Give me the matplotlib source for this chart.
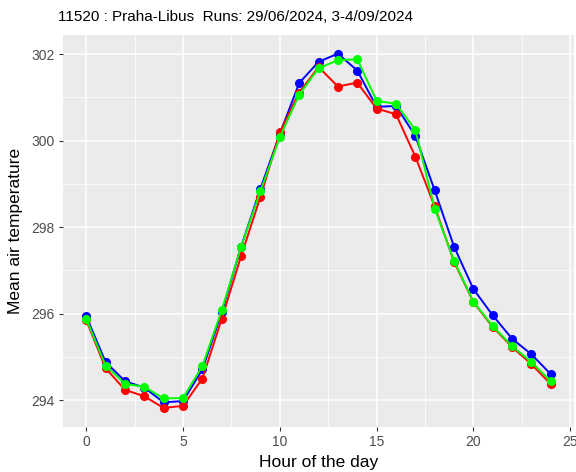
import matplotlib.pyplot as plt

plt.rcParams['font.family'] = ['Liberation Sans', 'DejaVu Sans']

hours = list(range(25))

# run 1 (blue)
temp_blue = [295.94, 294.88, 294.44, 294.29, 293.95, 293.98, 294.71, 296.03, 297.55,
             298.89, 300.15, 301.33, 301.82, 302.01, 301.62, 300.78, 300.80, 300.11,
             298.85, 297.55, 296.57, 295.96, 295.42, 295.06, 294.60]
# run 2 (red)
temp_red = [295.85, 294.74, 294.24, 294.09, 293.82, 293.87, 294.50, 295.88, 297.33,
            298.70, 300.19, 301.11, 301.70, 301.25, 301.34, 300.74, 300.61, 299.63,
            298.48, 297.20, 296.27, 295.69, 295.23, 294.83, 294.37]
# run 3 (green)
temp_green = [295.88, 294.80, 294.38, 294.31, 294.04, 294.05, 294.79, 296.08, 297.55,
              298.83, 300.08, 301.06, 301.67, 301.86, 301.88, 300.92, 300.85, 300.25,
              298.43, 297.22, 296.28, 295.71, 295.25, 294.88, 294.44]

series = [(temp_blue, "#0000FF"), (temp_red, "#FF0000"), (temp_green, "#00FF00")]

fig = plt.figure(figsize=(5.76, 4.72), dpi=100)
ax = fig.add_axes([0.1094, 0.0953, 0.8872, 0.8305])

# ggplot-like grey panel
ax.set_facecolor("#EBEBEB")
for s in ax.spines.values():
    s.set_visible(False)

for vals, col in series:
    ax.plot(hours, vals, color=col, lw=1.4, marker="o", markersize=5.5, zorder=3)

ax.set_xlim(-1.2, 25.2)
ax.set_ylim(293.38, 302.44)
ax.set_xticks([0, 5, 10, 15, 20, 25])
ax.set_yticks([294, 296, 298, 300, 302])
ax.set_xticks([2.5, 7.5, 12.5, 17.5, 22.5], minor=True)
ax.set_yticks([295, 297, 299, 301], minor=True)

ax.grid(which="major", color="white", lw=1.1, zorder=0)
ax.grid(which="minor", color="white", lw=0.55, zorder=0)
ax.set_axisbelow(True)

ax.tick_params(which="major", length=3, width=0.8, color="#333333",
               labelcolor="#4D4D4D", labelsize=10, pad=3)
ax.tick_params(which="minor", length=0)

ax.set_xlabel("Hour of the day", fontsize=12.5, labelpad=4)
ax.set_ylabel("Mean air temperature", fontsize=12.5, labelpad=6)
fig.text(0.1007, 0.965, "11520 : Praha-Libus  Runs: 29/06/2024, 3-4/09/2024",
         fontsize=11, ha="left", va="center")

fig.savefig("out.png", dpi=100)
